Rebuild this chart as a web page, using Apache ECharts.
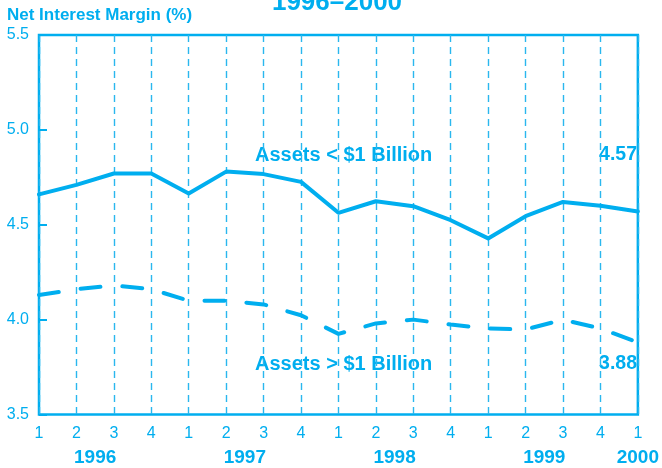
<!DOCTYPE html>
<html><head><meta charset="utf-8">
<script src="https://cdn.jsdelivr.net/npm/echarts@6/dist/echarts.min.js"></script>
<style>html,body{margin:0;padding:0;background:#fff}#c{width:662px;height:468px}</style>
</head><body><div id="c"></div>
<script>
const quarterLabels = ['1','2','3','4','1','2','3','4','1','2','3','4','1','2','3','4','1'];
const pointYears = ['1996','1996','1996','1996','1997','1997','1997','1997','1998','1998','1998','1998','1999','1999','1999','1999','2000'];
const smallBanks = [4.66,4.71,4.77,4.77,4.665,4.78,4.767,4.726,4.563,4.624,4.598,4.524,4.428,4.545,4.62,4.60,4.57];
const largeBanks = [4.13,4.16,4.18,4.16,4.10,4.10,4.08,4.023,3.925,3.98,4.00,3.974,3.953,3.948,4.00,3.953,3.88];
const yTicks = [3.5, 5.5, 0.5];
const titleText = '1996–2000';
const yName = 'Net Interest Margin (%)';
const smallLabel = 'Assets < $1 Billion';
const largeLabel = 'Assets > $1 Billion';

const C = '#00aeef';
const F = '"Liberation Sans", Arial, Helvetica, sans-serif';

// year label positions: mean index of each year's points
const yearPos = {};
const yrs = [...new Set(pointYears)];
yrs.forEach(y => {
  const idx = pointYears.map((p,i)=>p===y?i:-1).filter(i=>i>=0);
  yearPos[(idx.reduce((a,b)=>a+b,0)/idx.length).toFixed(1)] = y;
});

const chart = echarts.init(document.getElementById('c'), null, {renderer:'canvas'});
chart.setOption({
  animation: false,
  grid: {left: 39, right: 21, top: 35, bottom: 53.5, show: true, borderColor: C, borderWidth: 2.5, backgroundColor: 'transparent'},
  xAxis: [{
    type: 'value', min: 0, max: quarterLabels.length - 1, interval: 1,
    axisLine: {show: false}, axisTick: {show: false},
    splitLine: {show: true, lineStyle: {color: '#2ab7ee', width: 1.4, type: [7, 5]}},
    axisLabel: {color: C, fontFamily: F, fontSize: 16, margin: 11, showMinLabel: true, showMaxLabel: true,
      formatter: v => quarterLabels[Math.round(v)] || ''}
  }, {
    type: 'value', position: 'bottom', min: 0, max: quarterLabels.length - 1, interval: 0.5,
    axisLine: {show: false}, axisTick: {show: false}, splitLine: {show: false},
    axisLabel: {color: C, fontFamily: F, fontSize: 19, fontWeight: 'bold', margin: 34, showMinLabel: true, showMaxLabel: true,
      hideOverlap: false,
      formatter: v => yearPos[v.toFixed(1)] || ''}
  }],
  yAxis: {
    type: 'value', min: yTicks[0], max: yTicks[1], interval: yTicks[2],
    axisLine: {show: false},
    axisTick: {show: true, inside: true, length: 8, lineStyle: {color: C, width: 2}},
    splitLine: {show: false},
    axisLabel: {color: C, fontFamily: F, fontSize: 16, margin: 10, padding: [5, 0, 0, 0], formatter: v => v.toFixed(1)}
  },
  series: [{
    type: 'line', xAxisIndex: 0, data: smallBanks.map((v,i)=>[i,v]), showSymbol: false,
    lineStyle: {color: C, width: 4, cap: 'round', join: 'round'}
  }, {
    type: 'line', xAxisIndex: 0, data: largeBanks.map((v,i)=>[i,v]), showSymbol: false,
    lineStyle: {color: C, width: 4, type: [20, 22], cap: 'round', join: 'round'}
  }],
  graphic: [
    {type: 'text', style: {text: titleText, x: 337, y: 3, align: 'center', verticalAlign: 'middle', fill: C, font: 'bold 26px ' + F}},
    {type: 'text', style: {text: yName, x: 7, y: 15, verticalAlign: 'middle', fill: C, font: 'bold 17px ' + F}},
    {type: 'text', style: {text: smallLabel, x: 255, y: 155, verticalAlign: 'middle', fill: C, font: 'bold 20px ' + F}},
    {type: 'text', style: {text: smallBanks[smallBanks.length-1].toFixed(2), x: 637, y: 155, align: 'right', verticalAlign: 'middle', fill: C, font: 'bold 19.5px ' + F}},
    {type: 'text', style: {text: largeLabel, x: 255, y: 364, verticalAlign: 'middle', fill: C, font: 'bold 20px ' + F}},
    {type: 'text', style: {text: largeBanks[largeBanks.length-1].toFixed(2), x: 637, y: 364, align: 'right', verticalAlign: 'middle', fill: C, font: 'bold 19.5px ' + F}}
  ]
});
</script>
</body></html>
